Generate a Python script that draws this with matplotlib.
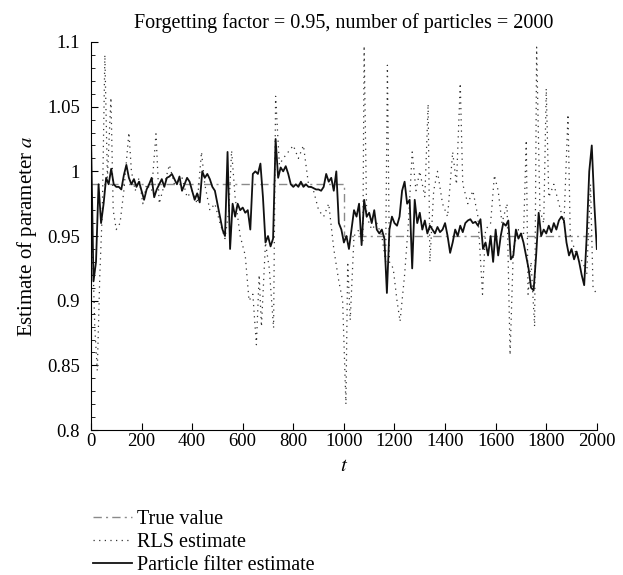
import numpy as np
import matplotlib
matplotlib.use("Agg")
import matplotlib.pyplot as plt
from matplotlib.ticker import MultipleLocator, FuncFormatter

plt.rcParams['font.family'] = ['Liberation Serif', 'DejaVu Serif']
plt.rcParams['mathtext.fontset'] = 'stix'

title = "Forgetting factor = 0.95, number of particles = 2000"

# True parameter value
true_t = [0, 1000, 1000, 2000]
true_v = [0.99, 0.99, 0.95, 0.95]

# Particle filter estimate, sampled every 10 steps (t = 0, 10, ..., 2000)
pf_step = 10
pf_v = [
    1.030, 0.915, 0.930, 0.990, 0.960, 0.975, 0.995, 0.990, 1.002, 0.990,
    0.988, 0.988, 0.986, 0.997, 1.005, 0.995, 0.990, 0.994, 0.988, 0.992,
    0.985, 0.978, 0.986, 0.990, 0.995, 0.980, 0.986, 0.990, 0.994, 0.988,
    0.995, 0.996, 0.998, 0.994, 0.990, 0.996, 0.985, 0.990, 0.995, 0.992,
    0.985, 0.978, 0.983, 0.976, 1.000, 0.995, 0.998, 0.994, 0.988, 0.985,
    0.975, 0.965, 0.955, 0.950, 1.015, 0.940, 0.975, 0.965, 0.975, 0.970,
    0.972, 0.968, 0.970, 0.955, 0.998, 1.000, 0.998, 1.006, 0.980, 0.945,
    0.950, 0.942, 0.948, 1.025, 0.995, 1.003, 1.000, 1.004, 0.998, 0.990,
    0.988, 0.990, 0.988, 0.992, 0.988, 0.990, 0.988, 0.988, 0.987, 0.986,
    0.986, 0.985, 0.988, 0.998, 0.992, 0.995, 0.985, 1.000, 0.960, 0.955,
    0.945, 0.950, 0.940, 0.955, 0.970, 0.965, 0.975, 0.943, 0.978, 0.965,
    0.968, 0.960, 0.970, 0.955, 0.952, 0.955, 0.948, 0.906, 0.955, 0.965,
    0.960, 0.958, 0.965, 0.985, 0.992, 0.975, 0.978, 0.925, 0.978, 0.960,
    0.968, 0.955, 0.962, 0.952, 0.958, 0.955, 0.952, 0.957, 0.953, 0.955,
    0.960, 0.950, 0.937, 0.945, 0.955, 0.950, 0.958, 0.953, 0.960, 0.962,
    0.963, 0.960, 0.961, 0.958, 0.963, 0.940, 0.945, 0.935, 0.950, 0.930,
    0.955, 0.935, 0.950, 0.960, 0.958, 0.962, 0.932, 0.935, 0.955, 0.948,
    0.952, 0.945, 0.935, 0.925, 0.910, 0.908, 0.935, 0.968, 0.950, 0.955,
    0.952, 0.958, 0.953, 0.960, 0.955, 0.962, 0.965, 0.962, 0.945, 0.935,
    0.940, 0.932, 0.938, 0.930, 0.920, 0.912, 0.950, 1.000, 1.020, 0.975,
    0.940,
]

# RLS estimate, read at irregular times
rls_t = [
    0, 8, 15, 25, 35, 45, 55, 65, 79, 88, 100, 115, 130, 150, 160, 175, 190,
    205, 220, 240, 257, 270, 290, 310, 330, 360, 380, 400, 420, 437, 450, 470,
    490, 510, 530, 545, 556, 570, 590, 610, 625, 640, 654, 665, 674, 690, 705,
    722, 730, 745, 760, 780, 800, 820, 840, 860, 880, 900, 920, 940, 960, 980,
    995, 1008, 1015, 1025, 1040, 1060, 1075, 1080, 1090, 1110, 1130, 1150,
    1165, 1172, 1180, 1195, 1210, 1222, 1240, 1255, 1270, 1285, 1300, 1320,
    1333, 1340, 1355, 1370, 1390, 1410, 1430, 1445, 1460, 1470, 1490, 1510,
    1530, 1548, 1560, 1580, 1595, 1610, 1625, 1645, 1657, 1670, 1690, 1710,
    1721, 1728, 1740, 1754, 1762, 1775, 1790, 1800, 1810, 1830, 1850, 1870,
    1886, 1895, 1920, 1945, 1960, 1975, 1985, 2000,
]
rls_v = [
    0.960, 0.930, 0.880, 0.846, 0.920, 0.970, 1.090, 0.995, 1.057, 0.970,
    0.955, 0.960, 0.985, 1.030, 1.000, 0.985, 0.995, 0.975, 0.990, 0.985,
    1.029, 0.975, 0.990, 1.005, 0.990, 0.995, 0.980, 0.985, 0.975, 1.015,
    0.990, 0.970, 0.975, 0.960, 0.948, 0.970, 1.016, 0.980, 0.950, 0.935,
    0.900, 0.905, 0.866, 0.920, 0.880, 0.945, 0.925, 0.879, 1.058, 1.005,
    1.010, 1.015, 1.020, 1.010, 1.020, 0.990, 0.985, 0.970, 0.965, 0.975,
    0.940, 0.915, 0.900, 0.820, 0.930, 0.885, 0.950, 0.955, 0.945, 1.097,
    0.965, 0.955, 0.960, 0.950, 0.930, 1.082, 0.930, 0.925, 0.900, 0.884,
    0.920, 0.960, 1.015, 0.985, 1.000, 0.980, 1.052, 0.930, 0.985, 1.000,
    0.975, 0.965, 1.015, 0.990, 1.068, 0.990, 0.975, 0.985, 0.965, 0.905,
    0.955, 0.960, 0.997, 0.985, 0.960, 0.975, 0.858, 0.940, 0.955, 0.950,
    1.024, 0.905, 0.930, 0.880, 1.096, 0.970, 0.960, 1.064, 0.980, 0.990,
    0.975, 0.960, 1.044, 0.950, 0.935, 0.930, 0.920, 0.990, 0.910, 0.905,
]

x_ticks = [0, 200, 400, 600, 800, 1000, 1200, 1400, 1600, 1800, 2000]
y_ticks = [0.8, 0.85, 0.9, 0.95, 1.0, 1.05, 1.1]
labels = ["True value", "RLS estimate", "Particle filter estimate"]

pf_t = np.arange(len(pf_v)) * pf_step

fig = plt.figure(figsize=(6.23, 5.75), dpi=100)
ax = fig.add_axes([0.146, 0.252, 0.812, 0.675])

l_true, = ax.plot(true_t, true_v, color='#8a8a8a', lw=1.0,
                  linestyle=(0, (6, 3, 1.5, 3)))
l_rls, = ax.plot(rls_t, rls_v, color='#333333', lw=0.9,
                 linestyle=(0, (1, 3.5)))
l_pf, = ax.plot(pf_t, pf_v, color='#111111', lw=1.3)

ax.set_xlim(0, 2000)
ax.set_ylim(0.8, 1.1)
ax.set_xticks(x_ticks)
ax.set_yticks(y_ticks)
ax.yaxis.set_major_formatter(FuncFormatter(lambda v, p: f"{v:g}"))
ax.yaxis.set_minor_locator(MultipleLocator(0.01))
for s in ['top', 'right']:
    ax.spines[s].set_visible(False)
ax.tick_params(axis='both', which='major', direction='in', length=5,
               labelsize=13.5, width=0.8)
ax.tick_params(axis='x', which='major', pad=2)
ax.tick_params(axis='y', which='major', pad=8)
ax.tick_params(axis='y', which='minor', direction='in', length=3, width=0.6)
ax.tick_params(axis='x', which='both', top=False)
ax.tick_params(axis='y', which='both', right=False)

ax.set_title(title, fontsize=14.5, pad=10)
ax.set_xlabel("$t$", fontsize=15, labelpad=5)
ax.set_ylabel("Estimate of parameter $a$", fontsize=15, labelpad=6)

fig.legend([l_true, l_rls, l_pf], labels, loc='upper left',
           bbox_to_anchor=(0.137, 0.127), frameon=False, fontsize=14.5,
           handlelength=1.9, handletextpad=0.25, labelspacing=0.18,
           borderaxespad=0)

fig.savefig("out.png", dpi=100)
